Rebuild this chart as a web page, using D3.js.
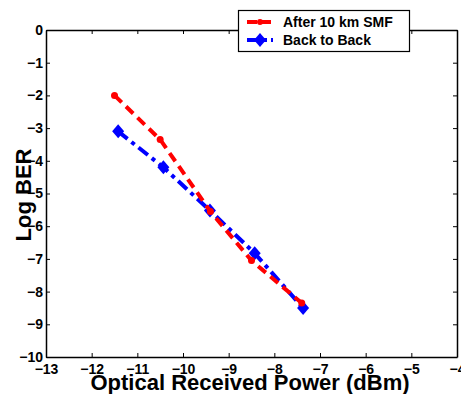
<!DOCTYPE html>
<html><head><meta charset="utf-8">
<script src="https://cdn.jsdelivr.net/npm/d3@7"></script>
<style>body{margin:0;background:#fff}svg{display:block}text{font-family:"Liberation Sans",Arial,sans-serif;font-weight:bold}</style>
</head><body>
<script>
const smfX = [-11.5, -10.5, -9.4, -8.5, -7.4];
const smfY = [-2.0, -3.35, -5.55, -7.05, -8.35];
const b2bX = [-11.42, -10.43, -9.41, -8.43, -7.37];
const b2bY = [-3.1, -4.2, -5.52, -6.83, -8.5];
const xTicks = [-13,-12,-11,-10,-9,-8,-7,-6,-5,-4];
const yTicks = [0,-1,-2,-3,-4,-5,-6,-7,-8,-9,-10];
const seriesNames = ["After 10 km SMF", "Back to Back"];

const W=461,H=394;
const m={l:46,r:4,t:30,b:37};
const svg=d3.select("body").append("svg").attr("width",W).attr("height",H);
const x=d3.scaleLinear().domain([-13,-4]).range([m.l,W-m.r]);
const y=d3.scaleLinear().domain([-10,0]).range([H-m.b,m.t]);

const g=svg.append("g");
// axes
const ax=g.append("g").attr("transform",`translate(0,${H-m.b})`).call(d3.axisBottom(x).tickValues(xTicks).tickSizeInner(-4).tickSizeOuter(0).tickPadding(7));
const axT=g.append("g").attr("transform",`translate(0,${m.t})`).call(d3.axisTop(x).tickValues(xTicks).tickSizeInner(-4).tickSizeOuter(0).tickFormat(""));
const ay=g.append("g").attr("transform",`translate(${m.l},0)`).call(d3.axisLeft(y).tickValues(yTicks).tickSizeInner(-4).tickSizeOuter(0).tickPadding(3));
const ayR=g.append("g").attr("transform",`translate(${W-m.r},0)`).call(d3.axisRight(y).tickValues(yTicks).tickSizeInner(-4).tickSizeOuter(0).tickFormat(""));
[ax,axT,ay,ayR].forEach(a=>{a.attr("font-family",null).attr("font-size",null);a.selectAll("path").attr("stroke","#000").attr("stroke-width",1.5);a.selectAll("line").attr("stroke","#000");a.selectAll("text").attr("font-size",14).attr("fill","#000").style("font-family","Liberation Sans, Arial, sans-serif").style("font-weight","bold");});

// lines
const line=d3.line().x(d=>x(d[0])).y(d=>y(d[1]));
const smf=smfX.map((v,i)=>[v,smfY[i]]);
const b2b=b2bX.map((v,i)=>[v,b2bY[i]]);
g.append("path").datum(b2b).attr("d",line).attr("fill","none").attr("stroke","#0000ff").attr("stroke-width",4).attr("stroke-dasharray","12,5,4,5");
g.selectAll(".dm").data(b2b).enter().append("path").attr("transform",d=>`translate(${x(d[0])},${y(d[1])})`).attr("d","M0,-7L6,0L0,7L-6,0Z").attr("fill","#0000ff");
g.append("path").datum(smf).attr("d",line).attr("fill","none").attr("stroke","#ff0000").attr("stroke-width",4).attr("stroke-dasharray","10,6");
g.selectAll(".cm").data(smf).enter().append("circle").attr("cx",d=>x(d[0])).attr("cy",d=>y(d[1])).attr("r",3.5).attr("fill","#ff0000");

// legend
const lg=svg.append("g");
lg.append("rect").attr("x",238.5).attr("y",10.5).attr("width",171).attr("height",41).attr("fill","#fff").attr("stroke","#000").attr("stroke-width",1.2);
lg.append("line").attr("x1",247).attr("x2",273).attr("y1",22).attr("y2",22).attr("stroke","#ff0000").attr("stroke-width",4).attr("stroke-dasharray","10,4");
lg.append("circle").attr("cx",260).attr("cy",22).attr("r",3).attr("fill","#ff0000");
lg.append("line").attr("x1",247).attr("x2",273).attr("y1",40).attr("y2",40).attr("stroke","#0000ff").attr("stroke-width",4).attr("stroke-dasharray","12,4,4,4");
lg.append("path").attr("transform","translate(260,40)").attr("d","M0,-7L6,0L0,7L-6,0Z").attr("fill","#0000ff");
lg.append("text").attr("x",283).attr("y",27).attr("font-size",14).text(seriesNames[0]);
lg.append("text").attr("x",283).attr("y",45).attr("font-size",14).text(seriesNames[1]);

// titles
svg.append("text").attr("x",250).attr("y",390).attr("text-anchor","middle").attr("font-size",22).text("Optical Received Power (dBm)");
svg.append("text").attr("transform","translate(31,195) rotate(-90)").attr("text-anchor","middle").attr("font-size",22).text("Log BER");
</script>
</body></html>
